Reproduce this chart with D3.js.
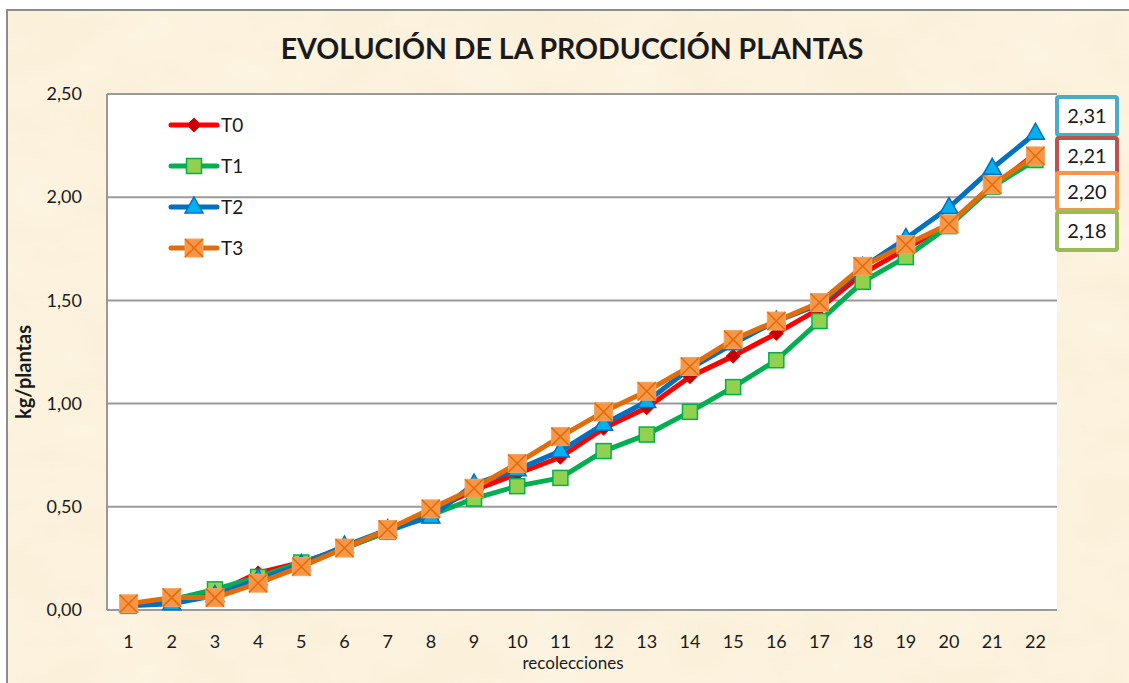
<!DOCTYPE html>
<html>
<head>
<meta charset="utf-8">
<script src="https://cdn.jsdelivr.net/npm/d3@7"></script>
<style>
  html, body { margin: 0; padding: 0; background: #fff; }
  svg { display: block; font-family: Lato, "Open Sans", sans-serif; }
</style>
</head>
<body>
<div id="chart"></div>
<script>
// ===== datos =====
const recolecciones = d3.range(1, 23);
const yTicks = [0, 0.5, 1, 1.5, 2, 2.5];

const T0 = [0.02, 0.05, 0.08, 0.18, 0.23, 0.30, 0.38, 0.48, 0.58, 0.66, 0.74, 0.88,
            0.98, 1.13, 1.23, 1.34, 1.46, 1.63, 1.75, 1.87, 2.05, 2.21];
const T1 = [0.02, 0.05, 0.10, 0.16, 0.23, 0.30, 0.38, 0.46, 0.54, 0.60, 0.64, 0.77,
            0.85, 0.96, 1.08, 1.21, 1.40, 1.59, 1.71, 1.86, 2.05, 2.18];
const T2 = [0.02, 0.03, 0.07, 0.15, 0.22, 0.31, 0.39, 0.45, 0.61, 0.68, 0.77, 0.90,
            1.01, 1.17, 1.29, 1.40, 1.48, 1.66, 1.80, 1.95, 2.14, 2.31];
const T3 = [0.03, 0.06, 0.06, 0.13, 0.21, 0.30, 0.39, 0.49, 0.59, 0.71, 0.84, 0.96,
            1.06, 1.18, 1.31, 1.40, 1.49, 1.665, 1.77, 1.87, 2.06, 2.20];

const series = [
  { name: 'T0', values: T0, line: '#ff0000', fill: '#c00000', stroke: '#ff0000', marker: 'diamond', box: '#c0504d' },
  { name: 'T1', values: T1, line: '#00b050', fill: '#92d050', stroke: '#00b050', marker: 'square', box: '#9bbb59' },
  { name: 'T2', values: T2, line: '#0070c0', fill: '#00b0f0', stroke: '#0070c0', marker: 'triangle', box: '#4bacc6' },
  { name: 'T3', values: T3, line: '#e36c09', fill: '#f79646', stroke: '#e36c09', marker: 'xsquare', box: '#f79646' }
];

// ===== lienzo =====
const W = 1129, H = 683;
const margin = { left: 107, top: 94, right: 1057, bottom: 610 };
const es = d3.formatLocale({ decimal: ',', thousands: '.', grouping: [3], currency: ['', '€'] });
const fmt = es.format('.2f');

const svg = d3.select('#chart').append('svg')
  .attr('width', W).attr('height', H);

const defs = svg.append('defs');
const filt = defs.append('filter').attr('id', 'paper')
  .attr('x', 0).attr('y', 0).attr('width', '100%').attr('height', '100%');
filt.append('feTurbulence').attr('type', 'fractalNoise')
  .attr('baseFrequency', '0.012 0.02').attr('numOctaves', 3).attr('seed', 4);
filt.append('feColorMatrix').attr('type', 'matrix')
  .attr('values', '0 0 0 0 1  0 0 0 0 0.98  0 0 0 0 0.93  0 0 0 0.4 0');
filt.append('feComposite').attr('in2', 'SourceGraphic').attr('operator', 'in');
filt.append('feBlend').attr('in2', 'SourceGraphic').attr('mode', 'normal');

// fondo pergamino
svg.append('rect').attr('x', 7).attr('y', 10).attr('width', W).attr('height', H)
  .attr('fill', '#fbefd6')
  .attr('filter', 'url(#paper)');
svg.append('rect').attr('x', 7).attr('y', 10).attr('width', W).attr('height', H)
  .attr('fill', 'none').attr('stroke', '#8c8c8c').attr('stroke-width', 2);

// ===== escalas =====
const x = d3.scaleBand().domain(recolecciones)
  .range([margin.left, margin.right]);
const y = d3.scaleLinear().domain([0, 2.5])
  .range([margin.bottom, margin.top]);

// área de trazado
svg.append('rect')
  .attr('x', margin.left).attr('y', margin.top)
  .attr('width', margin.right - margin.left).attr('height', margin.bottom - margin.top)
  .attr('fill', '#fff');

// líneas de división
svg.append('g').selectAll('line').data(yTicks).join('line')
  .attr('x1', margin.left).attr('x2', margin.right)
  .attr('y1', d => y(d)).attr('y2', d => y(d))
  .attr('stroke', '#9a9a9a').attr('stroke-width', 2);

svg.append('line')
  .attr('x1', margin.left).attr('x2', margin.left)
  .attr('y1', margin.top).attr('y2', margin.bottom)
  .attr('stroke', '#9a9a9a').attr('stroke-width', 2);

// ejes
const yAxis = svg.append('g')
  .attr('transform', `translate(${margin.left - 22},0)`)
  .call(d3.axisLeft(y).tickValues(yTicks).tickFormat(fmt).tickSize(0));
yAxis.select('.domain').remove();
yAxis.selectAll('text').attr('font-size', 18).attr('fill', '#1a1a1a')
  .attr('font-family', 'Lato, sans-serif');

const xAxis = svg.append('g')
  .attr('transform', `translate(0,${margin.bottom + 22})`)
  .call(d3.axisBottom(x).tickSize(0));
xAxis.select('.domain').remove();
xAxis.selectAll('text').attr('font-size', 18).attr('fill', '#1a1a1a')
  .attr('font-family', 'Lato, sans-serif');

// títulos
svg.append('text')
  .attr('x', 572).attr('y', 59)
  .attr('text-anchor', 'middle')
  .attr('font-size', 28.5).attr('font-weight', 'bold').attr('fill', '#1a1a1a')
  .text('EVOLUCIÓN DE LA PRODUCCIÓN PLANTAS');

svg.append('text')
  .attr('transform', `translate(31,${(margin.top + margin.bottom) / 2 + 20}) rotate(-90)`)
  .attr('text-anchor', 'middle')
  .attr('font-size', 20).attr('font-weight', 'bold').attr('fill', '#1a1a1a')
  .text('kg/plantas');

svg.append('text')
  .attr('x', 573).attr('y', 669)
  .attr('text-anchor', 'middle')
  .attr('font-size', 17).attr('fill', '#1a1a1a')
  .text('recolecciones');

// ===== marcadores =====
function drawMarker(g, s) {
  if (s.marker === 'diamond') {
    g.append('path').attr('d', 'M0,-7L7,0L0,7L-7,0Z')
      .attr('fill', s.fill).attr('stroke', s.stroke).attr('stroke-width', 1);
  } else if (s.marker === 'square') {
    g.append('rect').attr('x', -7.5).attr('y', -7.5).attr('width', 15).attr('height', 15)
      .attr('fill', s.fill).attr('stroke', s.stroke).attr('stroke-width', 1.5);
  } else if (s.marker === 'triangle') {
    g.append('path').attr('d', 'M0,-10L9,6L-9,6Z')
      .attr('fill', s.fill).attr('stroke', s.stroke).attr('stroke-width', 1.5);
  } else {
    g.append('rect').attr('x', -9).attr('y', -9).attr('width', 18).attr('height', 18)
      .attr('fill', s.fill).attr('stroke', '#f4a460').attr('stroke-width', 1);
    g.append('path').attr('d', 'M-9,-9L9,9M9,-9L-9,9')
      .attr('stroke', s.stroke).attr('stroke-width', 1.5);
  }
}

const line = d3.line()
  .x((d, i) => x(recolecciones[i]) + x.bandwidth() / 2)
  .y(d => y(d));

series.forEach(s => {
  const g = svg.append('g');
  g.append('path').datum(s.values)
    .attr('d', line)
    .attr('fill', 'none').attr('stroke', s.line)
    .attr('stroke-width', 5).attr('stroke-linejoin', 'round').attr('stroke-linecap', 'round');
  g.selectAll('g.m').data(s.values).join('g')
    .attr('class', 'm')
    .attr('transform', (d, i) => `translate(${x(recolecciones[i]) + x.bandwidth() / 2},${y(d)})`)
    .each(function() { drawMarker(d3.select(this), s); });
});

// ===== leyenda =====
const legend = svg.append('g');
series.forEach((s, i) => {
  const ly = 125 + i * 41;
  const lg = legend.append('g').attr('transform', `translate(0,${ly})`);
  lg.append('line').attr('x1', 171).attr('x2', 217).attr('y1', 0).attr('y2', 0)
    .attr('stroke', s.line).attr('stroke-width', 5).attr('stroke-linecap', 'round');
  const mg = lg.append('g').attr('transform', 'translate(194,0)');
  drawMarker(mg, s);
  lg.append('text').attr('x', 221).attr('y', 0).attr('dy', '0.36em')
    .attr('font-size', 19).attr('fill', '#1a1a1a').text(s.name);
});

// ===== etiquetas de valor final =====
const finals = series.map(s => ({ v: s.values[s.values.length - 1], box: s.box }))
  .sort((a, b) => b.v - a.v);
const boxY = [97, 138, 173, 212];
const boxH = [38, 35, 37, 38];
finals.forEach((f, i) => {
  const bg = svg.append('g').attr('transform', `translate(1057,${boxY[i]})`);
  bg.append('rect').attr('x', 0).attr('y', 0).attr('width', 60).attr('height', boxH[i])
    .attr('rx', 2).attr('fill', '#fff').attr('stroke', f.box).attr('stroke-width', 4);
  bg.append('text').attr('x', 30).attr('y', boxH[i] / 2).attr('dy', '0.36em')
    .attr('text-anchor', 'middle').attr('font-size', 20).attr('fill', '#1a1a1a')
    .text(fmt(f.v));
});
</script>
</body>
</html>
